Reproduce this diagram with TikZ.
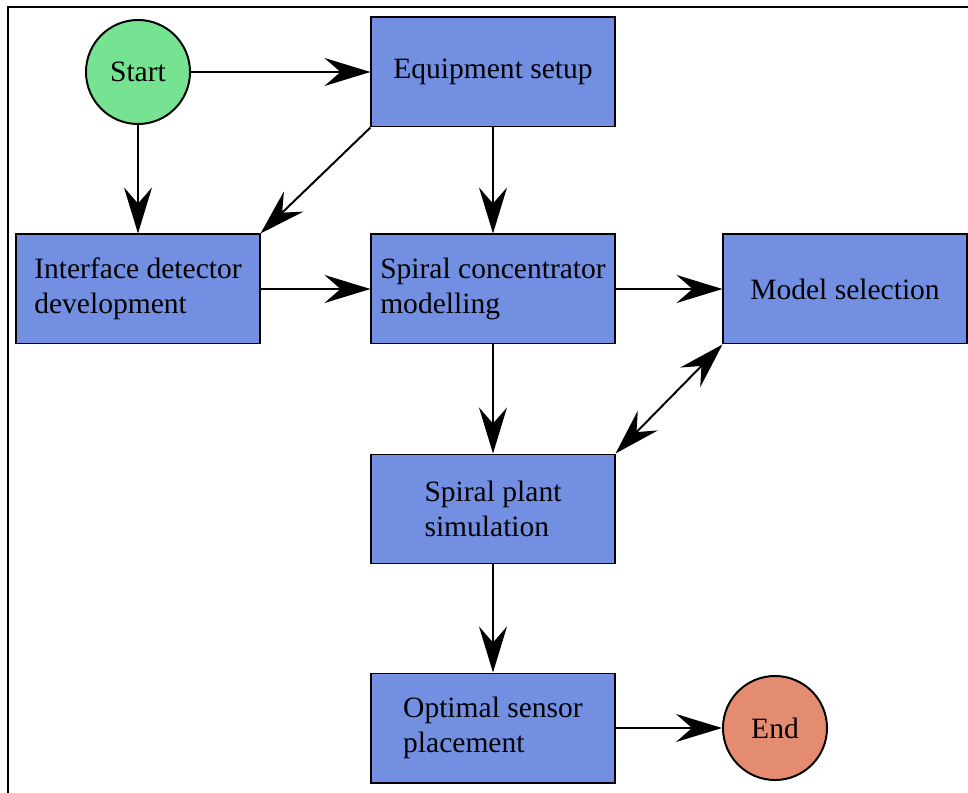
\documentclass[tikz,border=0pt]{standalone}
\usepackage{fontspec}
\setmainfont{Liberation Serif}
\usetikzlibrary{arrows.meta,positioning}
\definecolor{taskblue}{RGB}{115,143,226}
\definecolor{startgreen}{RGB}{117,227,146}
\definecolor{endsalmon}{RGB}{228,140,112}

\begin{document}
\begin{tikzpicture}[%
    x=0.025cm, y=-0.025cm,      % one unit = one pixel of the source figure
    >={Stealth[length=1.15cm,width=0.7cm,inset=0.4cm]},
    line width=1.4pt,           % Default line thickness for frame and arrows
    ]
\tikzset{
  base/.style={draw, line width=1.4pt, font=\fontsize{21}{25}\selectfont},
  task/.style={base, rectangle, fill=taskblue, minimum width=6.075cm, minimum height=2.725cm, align=left},
  term/.style={base, circle, minimum size=2.6cm, inner sep=0pt},
  ar/.style={->, line width=1.4pt},
  dar/.style={<->, line width=1.4pt}
}
    \useasboundingbox (0,0) rectangle (968,793);
    \draw (8,7) rectangle (1000,830);
    \node [term, fill=startgreen] (start) at (138,72) {Start};
    \node [task] (equip) at (493,72) {Equipment setup};
        \draw [ar] (start) -- (equip);
    \node [task] (iface) at (138,289) {Interface detector\\development};
        \draw [ar] (start) -- (iface);
        \draw [ar] (equip.south west) -- (iface.north east);
    \node [task] (scm) at (493,289) {Spiral concentrator\\modelling};
        \draw [ar] (equip) -- (scm);
        \draw [ar] (iface) -- (scm);
    \node [task] (msel) at (845,289) {Model selection};
        \draw [ar] (scm) -- (msel);
    \node [task] (plant) at (493,509) {Spiral plant\\simulation};
        \draw [ar] (scm) -- (plant);
        \draw [dar] (msel.south west) -- (plant.north east);
    \node [task] (osp) at (493,728) {Optimal sensor\\placement};
        \draw [ar] (plant) -- (osp);
    \node [term, fill=endsalmon] (stop) at (775,728) {End};
        \draw [ar] (osp) -- (stop);
\end{tikzpicture}
\end{document}
